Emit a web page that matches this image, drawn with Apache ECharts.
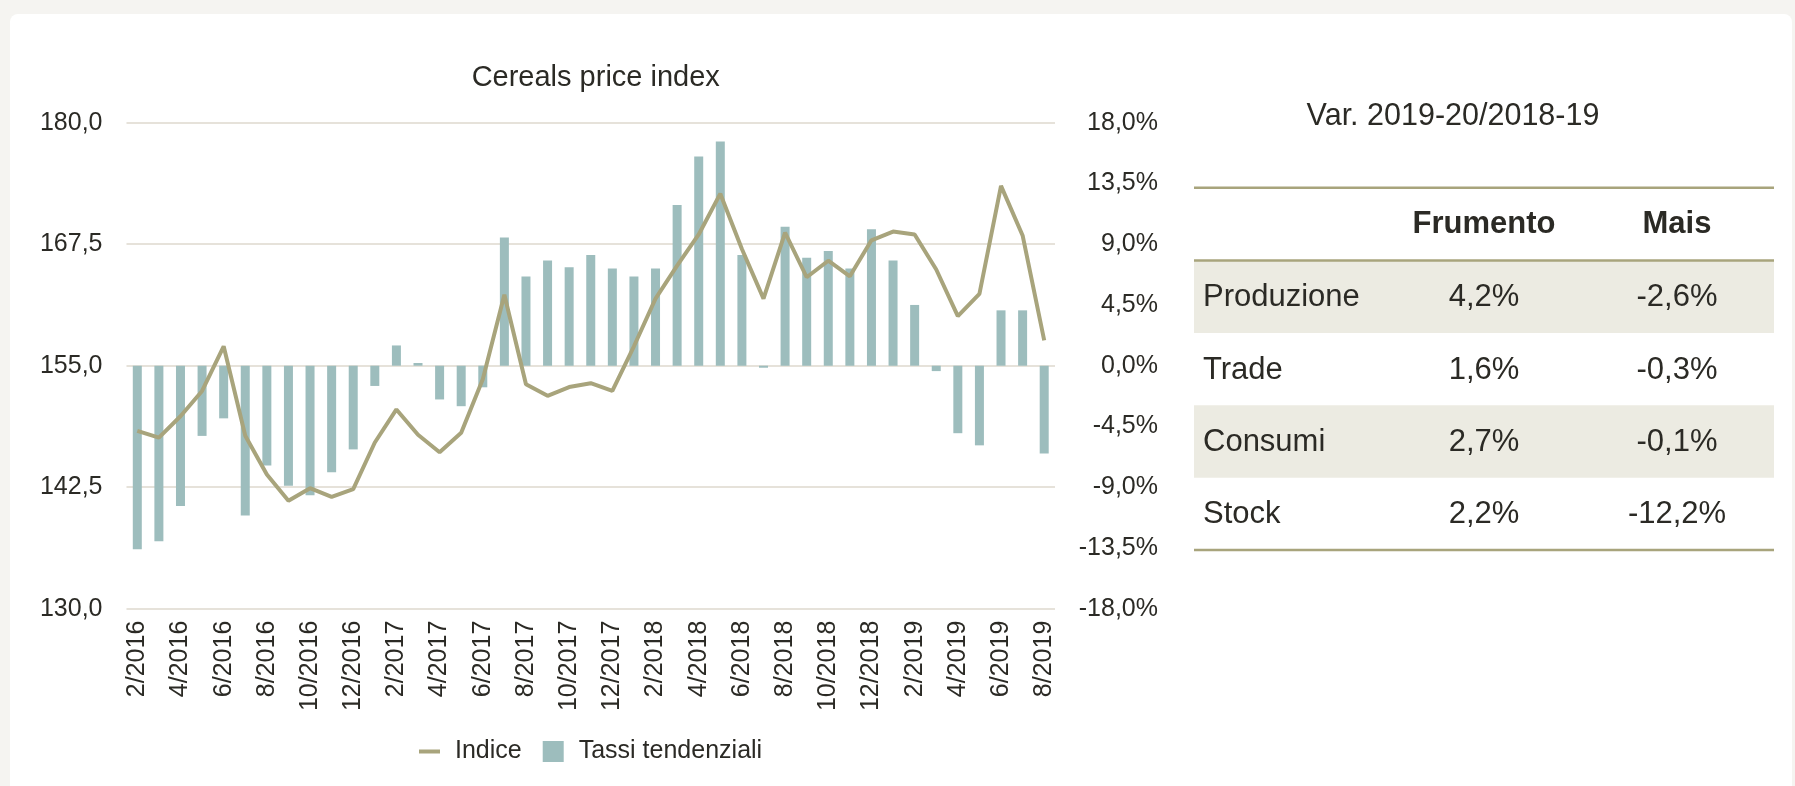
<!DOCTYPE html>
<html lang="it">
<head>
<meta charset="UTF-8">
<title>Cereals price index</title>
<style>
  html, body { margin: 0; padding: 0; background: #f5f4f1; }
  .card { position: absolute; left: 10px; top: 14px; width: 1782px; height: 790px; background: #fff; border-radius: 8px; }
  #chart { position: absolute; left: 0; top: 0; width: 1795px; height: 786px; }
</style>
</head>
<body>
<div class="card"></div>
<div id="chart"></div>
<script src="https://cdn.jsdelivr.net/npm/echarts@6/dist/echarts.min.js"></script>
<script>
// mesi da 2/2016 a 8/2019
const months = [
  '2/2016', '3/2016', '4/2016', '5/2016', '6/2016', '7/2016', '8/2016', '9/2016', '10/2016', '11/2016', '12/2016',
  '1/2017', '2/2017', '3/2017', '4/2017', '5/2017', '6/2017', '7/2017', '8/2017', '9/2017', '10/2017', '11/2017', '12/2017',
  '1/2018', '2/2018', '3/2018', '4/2018', '5/2018', '6/2018', '7/2018', '8/2018', '9/2018', '10/2018', '11/2018', '12/2018',
  '1/2019', '2/2019', '3/2019', '4/2019', '5/2019', '6/2019', '7/2019', '8/2019'
]
// indice prezzi (asse sinistro)
const indice = [
  148.3, 147.6, 149.8, 152.4, 157.0, 147.8, 143.8, 141.1, 142.4, 141.5, 142.3,
  147.1, 150.5, 147.9, 146.1, 148.1, 153.6, 162.3, 153.1, 151.9, 152.8, 153.2, 152.4,
  157.0, 161.9, 165.3, 168.5, 172.7, 167.0, 161.9, 168.7, 164.1, 165.8, 164.2, 167.9,
  168.8, 168.5, 164.9, 160.1, 162.4, 173.5, 168.4, 157.6
]
// tassi tendenziali % (asse destro)
const tassi = [
  -13.6, -13.0, -10.4, -5.2, -3.9, -11.1, -7.4, -8.9, -9.6, -7.9, -6.2,
  -1.5, 1.5, 0.2, -2.5, -3.0, -1.6, 9.5, 6.6, 7.8, 7.3, 8.2, 7.2,
  6.6, 7.2, 11.9, 15.5, 16.6, 8.2, -0.15, 10.3, 8.0, 8.5, 7.2, 10.1,
  7.8, 4.5, -0.4, -5.0, -5.9, 4.1, 4.1, -6.5
]

// tabella variazioni
const tableTitle = 'Var. 2019-20/2018-19'
const tableCols = ['Frumento', 'Mais']
const tableRows = ['Produzione', 'Trade', 'Consumi', 'Stock']
const frumento = [4.2, 1.6, 2.7, 2.2]
const mais = [-2.6, -0.3, -0.1, -12.2]

const FONT = '"Liberation Sans", Arial, Helvetica, sans-serif'
const TXT = '#2b2a25'
const OLIVE = '#a8a47c'
const TEAL = '#9dbdbd'

const fmt = (v, d) => v.toFixed(d).replace('.', ',')

const myChart = echarts.init(document.getElementById('chart'))

/* tabella disegnata con graphic */
const graphics = []
const tLeft = 1194, tRight = 1774
const rowTop = 260.5, rowH = 72.4
const colX = [1484, 1677]

graphics.push({
  type: 'text', x: 1453, y: 117,
  style: { text: tableTitle, font: '30.5px ' + FONT, fill: TXT, align: 'center', verticalAlign: 'middle' }
})
tableRows.forEach((name, i) => {
  if (i % 2 === 0) {
    graphics.push({
      type: 'rect', z: 0,
      shape: { x: tLeft, y: rowTop + i * rowH, width: tRight - tLeft, height: rowH },
      style: { fill: '#ecebe2' }
    })
  }
  const cy = rowTop + i * rowH + rowH / 2 + 1
  graphics.push({
    type: 'text', x: 1203, y: cy, z: 2,
    style: { text: name, font: '31px ' + FONT, fill: TXT, align: 'left', verticalAlign: 'middle' }
  })
  graphics.push({
    type: 'text', x: colX[0], y: cy, z: 2,
    style: { text: fmt(frumento[i], 1) + '%', font: '31px ' + FONT, fill: TXT, align: 'center', verticalAlign: 'middle' }
  })
  graphics.push({
    type: 'text', x: colX[1], y: cy, z: 2,
    style: { text: fmt(mais[i], 1) + '%', font: '31px ' + FONT, fill: TXT, align: 'center', verticalAlign: 'middle' }
  })
})
tableCols.forEach((c, j) => {
  graphics.push({
    type: 'text', x: colX[j], y: 224, z: 2,
    style: { text: c, font: 'bold 31px ' + FONT, fill: TXT, align: 'center', verticalAlign: 'middle' }
  })
})
;[187.7, rowTop, rowTop + 4 * rowH].forEach(y => {
  graphics.push({
    type: 'line', z: 3,
    shape: { x1: tLeft, y1: y, x2: tRight, y2: y },
    style: { stroke: OLIVE, lineWidth: 2.5 }
  })
})

const option = {
  animation: false,
  textStyle: { fontFamily: FONT, color: TXT },
  title: {
    text: 'Cereals price index',
    left: 590.75, top: 58, textAlign: 'center',
    textStyle: { fontFamily: FONT, fontSize: 29, fontWeight: 'normal', color: TXT }
  },
  legend: {
    data: [
      { name: 'Indice', icon: 'path://M0,0 L21,0 L21,4 L0,4 Z' },
      { name: 'Tassi tendenziali', icon: 'rect' }
    ],
    left: 414, top: 734,
    itemWidth: 21, itemHeight: 21, itemGap: 21,
    textStyle: { fontFamily: FONT, fontSize: 25, color: TXT, padding: [0, 0, 0, 10] }
  },
  grid: { left: 126.5, right: 740, top: 122.7, bottom: 177.3, outerBoundsMode: 'none' },
  xAxis: {
    type: 'category',
    data: months,
    axisLine: { show: false },
    axisTick: { show: false },
    axisLabel: { interval: 1, rotate: 90, margin: 12, fontSize: 25, fontFamily: FONT, color: TXT }
  },
  yAxis: [{
    type: 'value', min: 130, max: 180, interval: 12.5,
    axisLine: { show: false }, axisTick: { show: false },
    splitLine: { lineStyle: { color: '#e6e2da', width: 2 } },
    axisLabel: { margin: 24, fontSize: 25, fontFamily: FONT, color: TXT, formatter: v => fmt(v, 1) }
  }, {
    type: 'value', min: -18, max: 18, interval: 4.5, position: 'right',
    axisLine: { show: false }, axisTick: { show: false }, splitLine: { show: false },
    axisLabel: { margin: 103, align: 'right', fontSize: 25, fontFamily: FONT, color: TXT, formatter: v => fmt(v, 1) + '%' }
  }],
  series: [{
    name: 'Tassi tendenziali',
    type: 'bar',
    yAxisIndex: 1,
    data: tassi,
    barWidth: 9,
    itemStyle: { color: TEAL }
  }, {
    name: 'Indice',
    type: 'line',
    yAxisIndex: 0,
    data: indice,
    symbol: 'none',
    z: 5,
    lineStyle: { color: OLIVE, width: 4 },
    itemStyle: { color: OLIVE }
  }],
  graphic: graphics
}

myChart.setOption(option)
</script>
</body>
</html>
